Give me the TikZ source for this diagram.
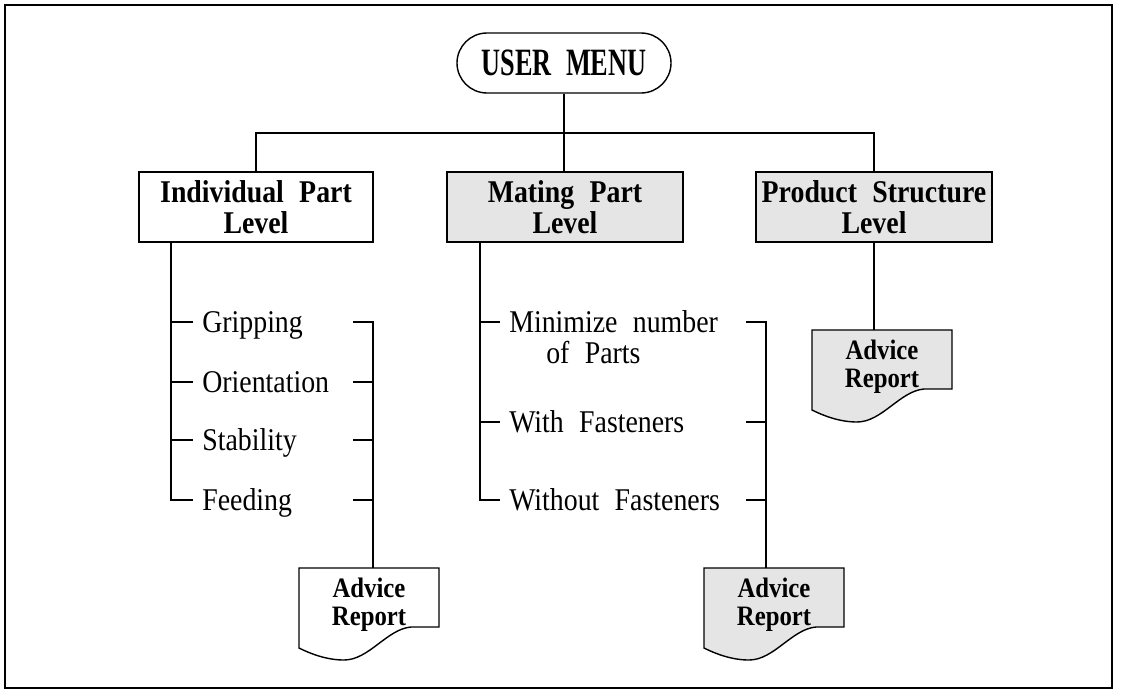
\documentclass[tikz,border=0pt]{standalone}
\usepackage{fontspec}
\setmainfont{Liberation Serif}[WordSpace=2.2,FakeStretch=0.88]
\newfontfamily\menufont{Liberation Serif}[WordSpace=2.2,FakeStretch=0.68]

\colorlet{shade}{black!10}

% report sheet with a wavy lower edge: name, left, top, fill
\newcommand{\reportsheet}[4]{%
  \draw[thick, fill=#4] (#2,#3) -- ({#2+140},#3) -- ({#2+140},{#3+59}) -- ({#2+112},{#3+59})
    .. controls ({#2+88},{#3+61}) and ({#2+70},{#3+92}) .. ({#2+45},{#3+92})
    .. controls ({#2+28},{#3+92}) and ({#2+12},{#3+86}) .. (#2,{#3+80}) -- cycle;
  \node[sheettext] (#1) at ({#2+70},#3) {Advice\\Report};
}

\begin{document}
\begin{tikzpicture}[x=0.2mm, y=-0.2mm, semithick,
  menubox/.style={draw, thick, rounded corners=6mm, minimum width=42.8mm, minimum height=12mm,
    font=\menufont\bfseries\fontsize{22}{24}\selectfont},
  partbox/.style={draw, thick, minimum width=#1, minimum height=14mm, inner xsep=0pt,
    align=center, font=\bfseries\fontsize{18}{17.8}\selectfont},
  item/.style={anchor=west, inner xsep=5pt, inner ysep=0pt, text height=11.9pt, text depth=0pt,
    font=\fontsize{18}{18}\selectfont},
  sheettext/.style={anchor=north, minimum width=28mm, minimum height=14.4mm, inner sep=0pt,
    align=center, font=\bfseries\fontsize{16}{16}\selectfont}]
\useasboundingbox (0,0) rectangle (1122,692);
\draw[line width=1pt] (5,5) rectangle (1112,688);

% menu and the three levels
\node[menubox] (menu) at (564,63) {USER MENU};
\node[partbox=46.8mm] (indiv) at (256,207) {Individual Part\\Level};
\node[partbox=47.2mm, fill=shade] (mating) at (565,207) {Mating Part\\Level};
\node[partbox=47.2mm, fill=shade] (prod) at (874,207) {Product Structure\\Level};

\coordinate (bar) at (564,133);
\draw (menu.south) -- (menu.south |- mating.north);
\draw (indiv.north) |- (bar) -| (prod.north);

% individual part level
\coordinate (lbus) at (171,0);
\coordinate (ltick) at (353,0);
\coordinate (lrail) at (373,0);
\node[item] (grip) at (193,322) {Gripping};
\node[item] (orient) at (193,382) {Orientation};
\node[item] (stab) at (193,440) {Stability};
\node[item] (feed) at (193,500) {Feeding};
\draw (indiv.south -| lbus) |- (feed.west);
\foreach \n in {grip,orient,stab}
  \draw (\n.west -| lbus) -- (\n.west);
\reportsheet{advice1}{299}{568}{white}
\draw (grip.west -| ltick) -| (advice1.north -| lrail);
\foreach \n in {orient,stab,feed}
  \draw (\n.west -| ltick) -- (\n.west -| lrail);

% mating part level
\coordinate (mbus) at (480,0);
\coordinate (mtick) at (746,0);
\coordinate (mrail) at (766,0);
\node[item] (mini) at (500,322) {Minimize number};
\node[item] (ofparts) at (537,353) {of Parts};
\node[item] (fast) at (500,422) {With Fasteners};
\node[item] (nofast) at (500,500) {Without Fasteners};
\draw (mating.south -| mbus) |- (nofast.west);
\draw (mini.west -| mbus) -- (mini.west);
\draw (fast.west -| mbus) -- (fast.west);
\reportsheet{advice2}{704}{568}{shade}
\draw (mini.west -| mtick) -| (advice2.north -| mrail);
\foreach \n in {fast,nofast}
  \draw (\n.west -| mtick) -- (\n.west -| mrail);

% product structure level
\reportsheet{advice3}{812}{330}{shade}
\draw (prod.south) -- (prod.south |- advice3.north);
\end{tikzpicture}
\end{document}
